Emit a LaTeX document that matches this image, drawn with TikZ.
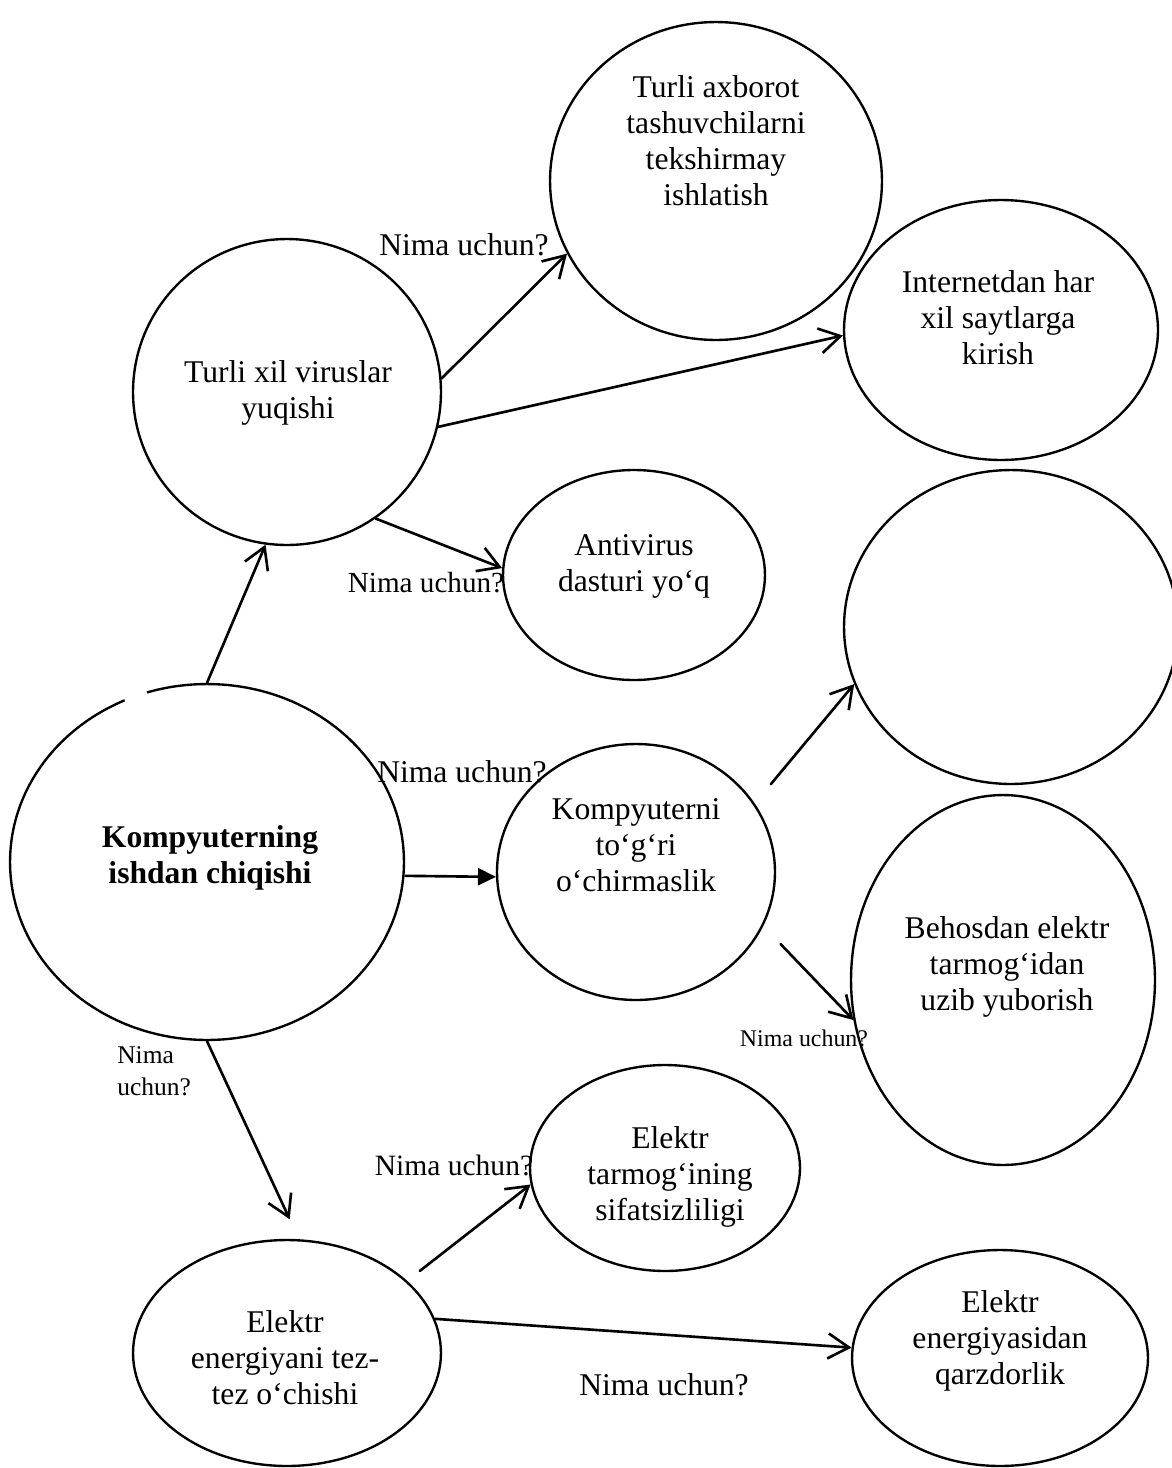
\documentclass[tikz,border=0pt]{standalone}
\usepackage{fontspec}
\setmainfont{Liberation Serif}
\usetikzlibrary{shapes.geometric,arrows.meta}
\begin{document}
\begin{tikzpicture}[x=0.02cm,y=-0.02cm,
  bub/.style={draw, ellipse, line width=1.35pt, inner sep=0pt},
  txt/.style={align=center, inner sep=0pt, font=\fontsize{18}{20.5}\selectfont},
  why/.style={inner sep=0pt, font=\fontsize{#1}{20.5}\selectfont},
  why/.default=18,
  arr/.style={line width=1.5pt, line cap=round, -{Straight Barb[length=0.42cm,width=0.5cm]}},
  arrf/.style={line width=1.5pt, -{Triangle[length=0.36cm,width=0.34cm]}}]
\useasboundingbox (0,0) rectangle (1172,1468);
\clip (0,0) rectangle (1172,1468);

% bubbles
\node[bub, minimum width=7.88cm, minimum height=7.12cm] (em)  at (207,862)  {};
\node[bub, minimum width=6.16cm, minimum height=6.12cm] (e2)  at (287,392)  {};
\node[bub, minimum width=6.64cm, minimum height=6.36cm] (e3)  at (716,181)  {};
\node[bub, minimum width=6.28cm, minimum height=5.20cm] (e4)  at (1001,330) {};
\node[bub, minimum width=5.24cm, minimum height=4.20cm] (e5)  at (634,575)  {};
\node[bub, minimum width=6.68cm, minimum height=6.28cm] (e6)  at (1011,627) {};
\node[bub, minimum width=5.56cm, minimum height=5.12cm] (e7)  at (636,872)  {};
\node[bub, minimum width=6.08cm, minimum height=7.40cm] (e8)  at (1003,980) {};
\node[bub, minimum width=5.40cm, minimum height=4.12cm] (e9)  at (665,1168) {};
\node[bub, minimum width=6.16cm, minimum height=4.52cm] (e10) at (287,1353) {};
\node[bub, minimum width=5.92cm, minimum height=4.32cm] (e11) at (1000,1358) {};

% small break in the outline of the central bubble
\fill[white] (136,697) circle[radius=12];

% bubble texts
\node[txt, font=\fontsize{18}{20.5}\selectfont\bfseries] (tm) at (210,858) {Kompyuterning\\ishdan chiqishi};
\node[txt] (t2)  at (288,393)  {Turli xil viruslar\\yuqishi};
\node[txt] (t3)  at (716,141)  {Turli axborot\\tashuvchilarni\\tekshirmay\\ishlatish};
\node[txt] (t4)  at (998,318)  {Internetdan har\\xil saytlarga\\kirish};
\node[txt] (t5)  at (634,566)  {Antivirus\\dasturi yo‘q};
\node[txt] (t7)  at (636,845)  {Kompyuterni\\to‘g‘ri\\o‘chirmaslik};
\node[txt] (t8)  at (1007,967) {Behosdan elektr\\tarmog‘idan\\uzib yuborish};
\node[txt] (t9)  at (670,1177) {Elektr\\tarmog‘ining\\sifatsizliligi};
\node[txt] (t10) at (285,1358) {Elektr\\energiyani tez-\\tez o‘chishi};
\node[txt] (t11) at (1000,1341) {Elektr\\energiyasidan\\qarzdorlik};

% connectors
\draw[arr] (em.90) -- (e2.262);
\draw[arr] (e2.5) -- (e3.206);
\draw[arr] (e2.-13) -- (e4.182);
\draw[arr] (e2.-55) -- (e5.177);
\draw[arrf] (em.-4) -- (e7.182);
\draw[arr, shorten <=0.5cm] (e7.30) -- (e6.200);
\draw[arr, shorten <=0.5cm] (e7.-23) -- (e8.195);
\draw[arr, shorten >=0.44cm] (em.-90) -- (e10.84);
\draw[arr, shorten <=0.32cm] (e10.31) -- (e9.187);
\draw[arr] (e10.13) -- (e11.176);

% question labels
\node[why] (q1) at (464,245) {Nima uchun?};
\node[why=16.6] (q2) at (426,583) {Nima uchun?};
\node[why] (q3) at (462,772) {Nima uchun?};
\node[why=13.6] (q4) at (804,1038) {Nima uchun?};
\node[why=14.5, align=left, anchor=west, font=\fontsize{14.5}{18.2}\selectfont] (q5) at (117,1071) {Nima\\uchun?};
\node[why=16.8] (q6) at (454,1165) {Nima uchun?};
\node[why] (q7) at (664,1385) {Nima uchun?};
\end{tikzpicture}
\end{document}
